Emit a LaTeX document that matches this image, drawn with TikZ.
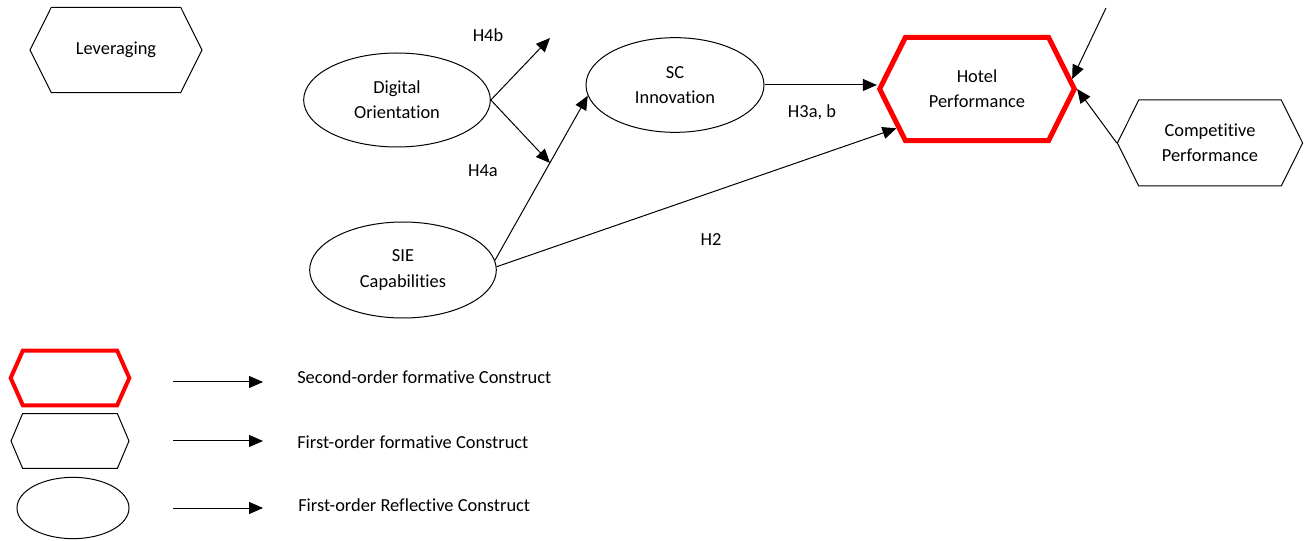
\documentclass[tikz,border=0pt]{standalone}
\usepackage{fontspec}
\setmainfont{Carlito}[Ligatures=NoCommon]
\usetikzlibrary{positioning,arrows.meta,shapes.geometric,shapes.symbols}
\definecolor{ink}{HTML}{000000}
\definecolor{accent}{HTML}{FF0000}

\begin{document}
\begin{tikzpicture}[
  x=0.75pt, y=-0.75pt,
  font=\fontsize{13.8}{19}\selectfont,
  refl/.style   = {draw=ink, ellipse, line width=0.75pt, inner sep=0pt, align=center},
  form/.style   = {draw=ink, signal, signal to=west and east, signal pointer angle=127,
                   line width=0.75pt, inner sep=0pt, align=center},
  second/.style = {form, draw=accent, line width=3.75pt},
  arr/.style    = {-{Triangle[length=10.5pt,width=9pt]}, draw=ink, line width=0.75pt},
  hyp/.style    = {inner sep=0pt},
  legtext/.style = {anchor=west, inner sep=0pt},
]
\useasboundingbox (0,0) rectangle (1307,541);

% ---------- constructs ----------
\node[form, minimum width=129pt, minimum height=64pt] (lev) at (116,50) {Leveraging};
\node[refl, minimum width=140pt, minimum height=70.5pt] (dig) at (397,100) {Digital\\Orientation};
\node[refl, minimum width=140pt, minimum height=72pt] (sie) at (403,270) {SIE\\Capabilities};
\node[refl, minimum width=133.5pt, minimum height=71pt] (sc) at (675,85) {SC\\Innovation};
\node[second, minimum width=146pt, minimum height=77.5pt] (hotel) at (977,89) {Hotel\\Performance};
\node[form, minimum width=139pt, minimum height=64.5pt] (comp) at (1210,143) {Competitive\\Performance};

% ---------- free ends ----------
\coordinate (h4bend) at (550,38);
\coordinate (h4aend) at (550,163);
\coordinate (topin) at (1106,8);

% ---------- paths ----------
\draw[arr] (dig.east) -- (h4bend);
\draw[arr] (dig.east) -- (h4aend);
\draw[arr] (sie.6) -- (sc.187);
\draw[arr] (sie.2) -- (hotel.206);
\draw[arr] (sc.east) -- (sc.east -| hotel.west);
\draw[arr] (topin) -- (hotel.6);
\draw[arr] (comp.west) -- (hotel.east);

% ---------- hypotheses ----------
\node[hyp] (h4b) at (488,35) {H4b};
\node[hyp] (h4a) at (483,171) {H4a};
\node[hyp] (h3) at (812,112) {H3a, b};
\node[hyp] (h2) at (711,240) {H2};

% ---------- legend ----------
\node[second, line width=3pt, signal pointer angle=132, minimum width=89pt, minimum height=41pt] (legsec) at (70,378) {};
\node[form, signal pointer angle=134, minimum width=88.5pt, minimum height=41pt] (legfirst) at (70,441) {};
\node[refl, minimum width=84pt, minimum height=46pt] (legrefl) at (73,508) {};

\foreach \i/\y in {1/382, 2/441, 3/508} {
  \coordinate (la\i) at (173,\y);
  \coordinate (lb\i) at (263,\y);
  \draw[arr] (la\i) -- (lb\i);
}
\node[legtext] (t1) at (297,377) {Second-order formative Construct};
\node[legtext] (t2) at (297,442) {First-order formative Construct};
\node[legtext] (t3) at (298,505) {First-order Reflective Construct};

\end{tikzpicture}
\end{document}
